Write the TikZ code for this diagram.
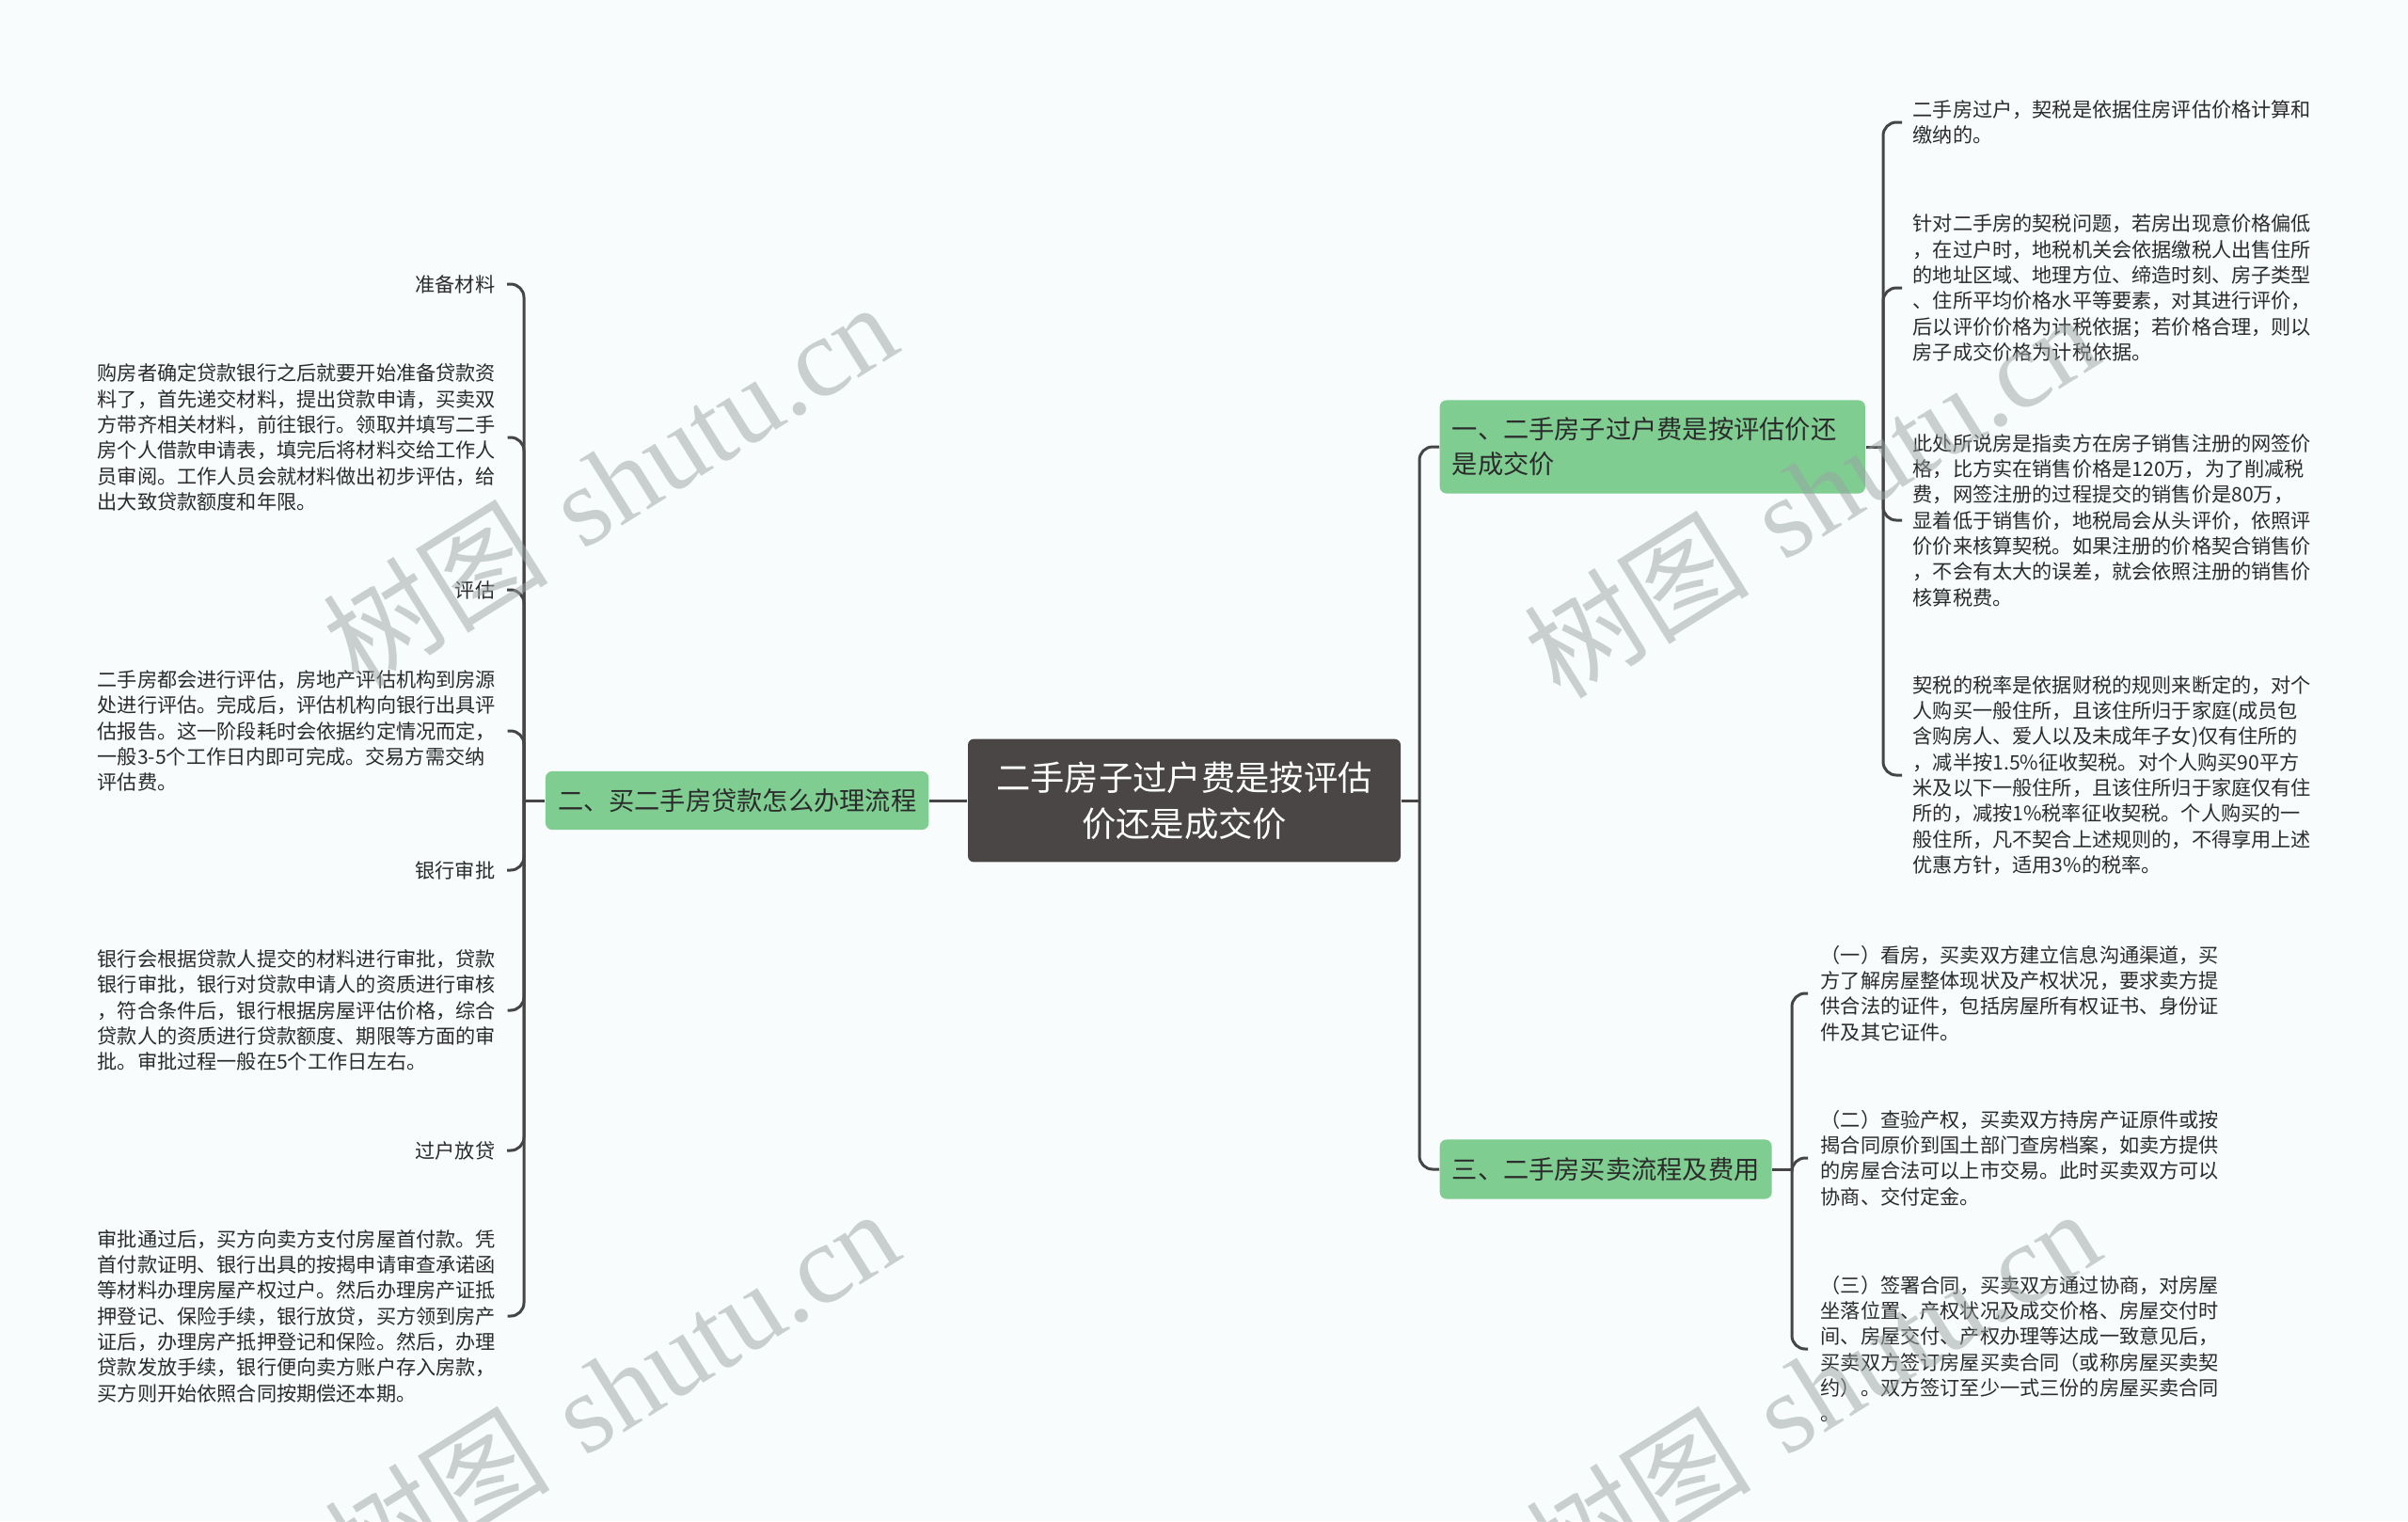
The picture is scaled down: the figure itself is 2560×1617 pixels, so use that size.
\documentclass[tikz,border=0pt]{standalone}
\usepackage{fontspec}
\newfontfamily\cjk{Noto Sans CJK SC}
\newfontfamily\wmlatin{Liberation Serif}
\usetikzlibrary{calc}
\definecolor{bgc}{HTML}{F8FCFD}
\definecolor{leafc}{HTML}{7FCD91}
\definecolor{rootc}{HTML}{4A4646}
\definecolor{linec}{HTML}{454545}
\definecolor{txtc}{HTML}{2B2B2B}
\definecolor{wmc}{HTML}{9CA3A3}
\begin{document}
\begin{tikzpicture}[x=0.2835pt,y=-0.2835pt,
  smalltext/.style={font=\cjk\fontsize{6}{7.74}\selectfont, text=txtc, inner sep=0pt, align=left},
  branchbox/.style={fill=leafc, rounded corners=2pt, font=\cjk\fontsize{7.72}{10.5}\selectfont, text=txtc, inner xsep=3.7pt, inner ysep=0pt, align=left},
  rootbox/.style={fill=rootc, rounded corners=1.8pt, font=\cjk\fontsize{10.3}{13.9}\selectfont, text=white, align=center, minimum width=130.4pt, minimum height=37.1pt, inner sep=0pt},
  conn/.style={draw=linec, line width=0.85pt, rounded corners=4pt},
  wm/.style={font=\fontsize{34}{40}\selectfont, text=wmc, text opacity=0.5, rotate=32, inner sep=0pt}]
\fill[bgc] (0,0) rectangle (2560,1617);
\useasboundingbox (0,0) rectangle (2560,1617);
\clip (0,0) rectangle (2560,1617);

% root
\node[rootbox] (root) at (1259,851) {二手房子过户费是按评估\\价还是成交价};

% branches
\node[branchbox, anchor=east, minimum height=17.6pt] (b2) at (988,851) {二、买二手房贷款怎么办理流程};
\node[branchbox, anchor=west, minimum height=28.1pt, text width=120.8pt] (b1) at (1530,475) {一、二手房子过户费是按评估价还\\是成交价};
\node[branchbox, anchor=west, minimum height=17.9pt] (b3) at (1530,1243) {三、二手房买卖流程及费用};

% left children
\node[smalltext, anchor=east] (l1) at (527,302) {准备材料};
\node[smalltext, anchor=west] (p1) at (103,465) {购房者确定贷款银行之后就要开始准备贷款资\\料了，首先递交材料，提出贷款申请，买卖双\\方带齐相关材料，前往银行。领取并填写二手\\房个人借款申请表，填完后将材料交给工作人\\员审阅。工作人员会就材料做出初步评估，给\\出大致贷款额度和年限。};
\node[smalltext, anchor=east] (l2) at (527,627) {评估};
\node[smalltext, anchor=west] (p2) at (103,777) {二手房都会进行评估，房地产评估机构到房源\\处进行评估。完成后，评估机构向银行出具评\\估报告。这一阶段耗时会依据约定情况而定，\\一般3-5个工作日内即可完成。交易方需交纳\\评估费。};
\node[smalltext, anchor=east] (l3) at (527,925) {银行审批};
\node[smalltext, anchor=west] (p3) at (103,1074) {银行会根据贷款人提交的材料进行审批，贷款\\银行审批，银行对贷款申请人的资质进行审核\\，符合条件后，银行根据房屋评估价格，综合\\贷款人的资质进行贷款额度、期限等方面的审\\批。审批过程一般在5个工作日左右。};
\node[smalltext, anchor=east] (l4) at (527,1223) {过户放贷};
\node[smalltext, anchor=west] (p4) at (103,1399) {审批通过后，买方向卖方支付房屋首付款。凭\\首付款证明、银行出具的按揭申请审查承诺函\\等材料办理房屋产权过户。然后办理房产证抵\\押登记、保险手续，银行放贷，买方领到房产\\证后，办理房产抵押登记和保险。然后，办理\\贷款发放手续，银行便向卖方账户存入房款，\\买方则开始依照合同按期偿还本期。};

% right children of b1
\node[smalltext, anchor=west] (r1) at (2033,130) {二手房过户，契税是依据住房评估价格计算和\\缴纳的。};
\node[smalltext, anchor=west] (r2) at (2033,306) {针对二手房的契税问题，若房出现意价格偏低\\，在过户时，地税机关会依据缴税人出售住所\\的地址区域、地理方位、缔造时刻、房子类型\\、住所平均价格水平等要素，对其进行评价，\\后以评价价格为计税依据；若价格合理，则以\\房子成交价格为计税依据。};
\node[smalltext, anchor=west] (r3) at (2033,553) {此处所说房是指卖方在房子销售注册的网签价\\格，比方实在销售价格是120万，为了削减税\\费，网签注册的过程提交的销售价是80万，\\显着低于销售价，地税局会从头评价，依照评\\价价来核算契税。如果注册的价格契合销售价\\，不会有太大的误差，就会依照注册的销售价\\核算税费。};
\node[smalltext, anchor=west] (r4) at (2033,824) {契税的税率是依据财税的规则来断定的，对个\\人购买一般住所，且该住所归于家庭(成员包\\含购房人、爱人以及未成年子女)仅有住所的\\，减半按1.5\%征收契税。对个人购买90平方\\米及以下一般住所，且该住所归于家庭仅有住\\所的，减按1\%税率征收契税。个人购买的一\\般住所，凡不契合上述规则的，不得享用上述\\优惠方针，适用3\%的税率。};

% right children of b3
\node[smalltext, anchor=west] (q1) at (1935,1056) {（一）看房，买卖双方建立信息沟通渠道，买\\方了解房屋整体现状及产权状况，要求卖方提\\供合法的证件，包括房屋所有权证书、身份证\\件及其它证件。};
\node[smalltext, anchor=west] (q2) at (1935,1231) {（二）查验产权，买卖双方持房产证原件或按\\揭合同原价到国土部门查房档案，如卖方提供\\的房屋合法可以上市交易。此时买卖双方可以\\协商、交付定金。};
\node[smalltext, anchor=west] (q3) at (1935,1434) {（三）签署合同，买卖双方通过协商，对房屋\\坐落位置、产权状况及成交价格、房屋交付时\\间、房屋交付、产权办理等达成一致意见后，\\买卖双方签订房屋买卖合同（或称房屋买卖契\\约）。双方签订至少一式三份的房屋买卖合同\\。};

% junction coordinates
\coordinate (lj) at (557,851);
\coordinate (rj) at (1509,851);
\coordinate (rj1) at (2002,475);
\coordinate (rj3) at (1905,1243);

% connectors
\draw[conn] (root.west) -- (b2.east);
\draw[conn] (root.east) -- (rj);
\draw[conn] (rj) |- (b1.west);
\draw[conn] (rj) |- (b3.west);
\draw[conn] (b2.west) -- (lj);
\foreach \n in {l1,l2,l3,l4}{\draw[conn] (lj) |- ($(\n.east)+(12,0)$);}
\foreach \n in {p1,p2,p3,p4}{\draw[conn] (lj) |- ($(\n.east)+(12,0)$);}
\draw[conn] (b1.east) -- (rj1);
\foreach \n in {r1,r2,r3,r4}{\draw[conn] (rj1) |- ($(\n.west)+(-11,0)$);}
\draw[conn] (b3.east) -- (rj3);
\foreach \n in {q1,q2,q3}{\draw[conn] (rj3) |- ($(\n.west)+(-13,0)$);}

% watermarks
\node[wm] (w1) at (648,514) {{\cjk 树图}\,\,{\wmlatin shutu.cn}};
\node[wm] (w2) at (1925,526) {{\cjk 树图}\,\,{\wmlatin shutu.cn}};
\node[wm] (w3) at (650,1478) {{\cjk 树图}\,\,{\wmlatin shutu.cn}};
\node[wm] (w4) at (1927,1478) {{\cjk 树图}\,\,{\wmlatin shutu.cn}};
\end{tikzpicture}
\end{document}
